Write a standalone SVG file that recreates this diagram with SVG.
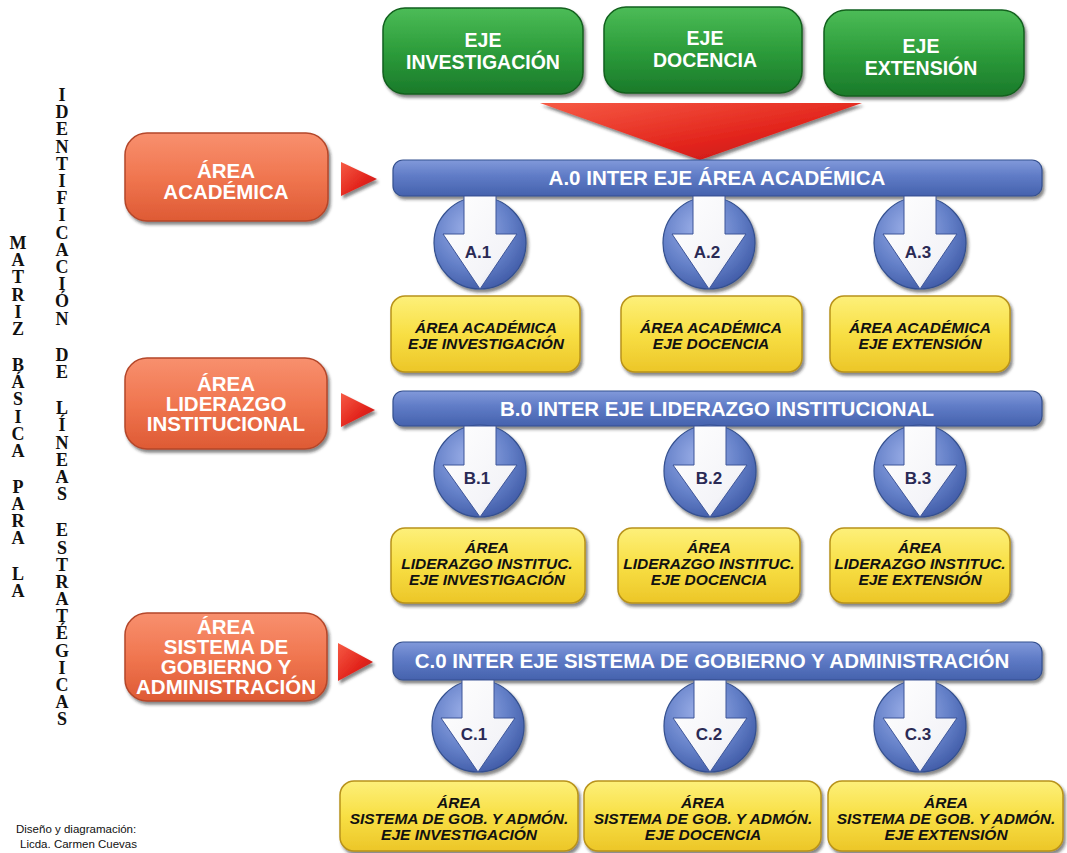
<svg xmlns="http://www.w3.org/2000/svg" width="1067" height="853" viewBox="0 0 1067 853">
<defs>
<linearGradient id="gGreen" x1="0" y1="0" x2="0" y2="1"><stop offset="0" stop-color="#4cbc57"/><stop offset="0.5" stop-color="#2d9d3b"/><stop offset="1" stop-color="#1a7a2a"/></linearGradient>
<linearGradient id="gOrange" x1="0" y1="0" x2="0" y2="1"><stop offset="0" stop-color="#f8906e"/><stop offset="0.5" stop-color="#f07650"/><stop offset="1" stop-color="#de5a34"/></linearGradient>
<linearGradient id="gBlue" x1="0" y1="0" x2="0" y2="1"><stop offset="0" stop-color="#8199da"/><stop offset="0.45" stop-color="#5f7bc6"/><stop offset="1" stop-color="#4562ad"/></linearGradient>
<linearGradient id="gYellow" x1="0" y1="0" x2="0" y2="1"><stop offset="0" stop-color="#fdf07a"/><stop offset="0.5" stop-color="#f8df44"/><stop offset="1" stop-color="#ecc628"/></linearGradient>
<linearGradient id="gRed" x1="0" y1="0" x2="1" y2="1"><stop offset="0" stop-color="#f65a44"/><stop offset="0.6" stop-color="#e2241c"/><stop offset="1" stop-color="#b81414"/></linearGradient>
<radialGradient id="gCircle" cx="0.4" cy="0.35" r="0.7"><stop offset="0" stop-color="#9fb2ea"/><stop offset="0.6" stop-color="#6480c8"/><stop offset="1" stop-color="#3f5aa6"/></radialGradient>
<linearGradient id="gWhite" x1="0" y1="0" x2="1" y2="1"><stop offset="0" stop-color="#ffffff"/><stop offset="0.7" stop-color="#f4f4f8"/><stop offset="1" stop-color="#c9cde0"/></linearGradient>
<filter id="sh" x="-10%" y="-10%" width="120%" height="130%"><feDropShadow dx="2" dy="3" stdDeviation="1.5" flood-color="#222" flood-opacity="0.55"/></filter>
<style>
.green{fill:url(#gGreen);stroke:#12601f;stroke-width:1.5;filter:url(#sh)}
.orange{fill:url(#gOrange);stroke:#b4472a;stroke-width:1.5;filter:url(#sh)}
.bar{fill:url(#gBlue);stroke:#34508f;stroke-width:1.2;filter:url(#sh)}
.yellow{fill:url(#gYellow);stroke:#b8921a;stroke-width:1.5;filter:url(#sh)}
.circ{fill:url(#gCircle);stroke:#34508f;stroke-width:1.2;filter:url(#sh)}
.arw{fill:url(#gWhite);stroke:#3d5598;stroke-width:1}
.red{fill:url(#gRed);filter:url(#sh)}
.wt{font-family:"Liberation Sans",Arial,sans-serif;font-weight:bold;fill:#ffffff;text-anchor:middle}
.gt{font-size:19.5px}
.ot{font-size:20.5px}
.bt{font-size:20.5px}
.yt{font-family:"Liberation Sans",Arial,sans-serif;font-weight:bold;font-style:italic;font-size:15.5px;fill:#111;text-anchor:middle}
.lt{font-family:"Liberation Sans",Arial,sans-serif;font-weight:bold;font-size:17px;fill:#2a2a55;text-anchor:middle}
.vt{font-family:"Liberation Serif","Times New Roman",serif;font-weight:bold;font-size:18px;fill:#111;text-anchor:middle}
.cr{font-family:"Liberation Sans",Arial,sans-serif;font-size:11.5px;fill:#111}
</style>
</defs>
<rect width="1067" height="853" fill="#ffffff"/>

<!-- vertical titles -->
<g id="title-matriz">
<text class="vt"><tspan x="18" y="249">M</tspan><tspan x="18" y="266">A</tspan><tspan x="18" y="283">T</tspan><tspan x="18" y="301">R</tspan><tspan x="18" y="318">I</tspan><tspan x="18" y="335">Z</tspan><tspan x="18" y="371">B</tspan><tspan x="18" y="388">Á</tspan><tspan x="18" y="405">S</tspan><tspan x="18" y="423">I</tspan><tspan x="18" y="440">C</tspan><tspan x="18" y="457">A</tspan><tspan x="18" y="493">P</tspan><tspan x="18" y="510">A</tspan><tspan x="18" y="527">R</tspan><tspan x="18" y="544">A</tspan><tspan x="18" y="580">L</tspan><tspan x="18" y="597">A</tspan></text>
</g>
<g id="title-identificacion">
<text class="vt"><tspan x="62" y="101">I</tspan><tspan x="62" y="118">D</tspan><tspan x="62" y="135">E</tspan><tspan x="62" y="153">N</tspan><tspan x="62" y="170">T</tspan><tspan x="62" y="187">I</tspan><tspan x="62" y="204">F</tspan><tspan x="62" y="221">I</tspan><tspan x="62" y="239">C</tspan><tspan x="62" y="256">A</tspan><tspan x="62" y="273">C</tspan><tspan x="62" y="290">I</tspan><tspan x="62" y="307">Ó</tspan><tspan x="62" y="325">N</tspan><tspan x="62" y="361">D</tspan><tspan x="62" y="378">E</tspan><tspan x="62" y="414">L</tspan><tspan x="62" y="431">Í</tspan><tspan x="62" y="449">N</tspan><tspan x="62" y="466">E</tspan><tspan x="62" y="483">A</tspan><tspan x="62" y="500">S</tspan><tspan x="62" y="536">E</tspan><tspan x="62" y="554">S</tspan><tspan x="62" y="571">T</tspan><tspan x="62" y="588">R</tspan><tspan x="62" y="605">A</tspan><tspan x="62" y="622">T</tspan><tspan x="62" y="639">É</tspan><tspan x="62" y="657">G</tspan><tspan x="62" y="674">I</tspan><tspan x="62" y="691">C</tspan><tspan x="62" y="708">A</tspan><tspan x="62" y="725">S</tspan></text>
</g>

<!-- connectors -->
<g id="connectors">
<polygon class="red" points="540,103 862,103 700,160"/>
<polygon class="red" points="341,162 377,179 341,196"/>
<polygon class="red" points="341,393 375,410 341,427"/>
<polygon class="red" points="338,643 373,662 338,681"/>
</g>

<!-- green axes -->
<g id="eje-investigacion"><rect class="green" x="383" y="8" width="200" height="86" rx="22"/><text class="wt gt" x="483" y="47">EJE</text><text class="wt gt" x="483" y="69">INVESTIGACIÓN</text></g>
<g id="eje-docencia"><rect class="green" x="604" y="7" width="198" height="86" rx="22"/><text class="wt gt" x="705" y="45">EJE</text><text class="wt gt" x="705" y="67">DOCENCIA</text></g>
<g id="eje-extension"><rect class="green" x="824" y="10" width="200" height="86" rx="22"/><text class="wt gt" x="921" y="53">EJE</text><text class="wt gt" x="921" y="75">EXTENSIÓN</text></g>

<!-- orange areas -->
<g id="area-academica"><rect class="orange" x="125" y="133" width="203" height="88" rx="22"/><text class="wt ot" x="226" y="178">ÁREA</text><text class="wt ot" x="226" y="199">ACADÉMICA</text></g>
<g id="area-liderazgo"><rect class="orange" x="125" y="358" width="202" height="91" rx="22"/><text class="wt ot" x="226" y="391">ÁREA</text><text class="wt ot" x="226" y="411">LIDERAZGO</text><text class="wt ot" x="226" y="431">INSTITUCIONAL</text></g>
<g id="area-sistema"><rect class="orange" x="125" y="613" width="202" height="88" rx="22"/><text class="wt ot" x="226" y="634">ÁREA</text><text class="wt ot" x="226" y="654">SISTEMA DE</text><text class="wt ot" x="226" y="674">GOBIERNO Y</text><text class="wt ot" x="226" y="694">ADMINISTRACIÓN</text></g>

<!-- inter-eje bars -->
<g id="bar-a0"><rect class="bar" x="393" y="160" width="649" height="36" rx="10"/><text class="wt bt" x="717" y="185">A.0 INTER EJE ÁREA ACADÉMICA</text></g>
<g id="bar-b0"><rect class="bar" x="393" y="391" width="649" height="35" rx="10"/><text class="wt bt" x="717" y="416">B.0 INTER EJE LIDERAZGO INSTITUCIONAL</text></g>
<g id="bar-c0"><rect class="bar" x="393" y="642" width="649" height="38" rx="10"/><text class="wt bt" x="712" y="668">C.0 INTER EJE SISTEMA DE GOBIERNO Y ADMINISTRACIÓN</text></g>

<!-- circle arrows row A -->
<g id="a1"><circle class="circ" cx="480" cy="243" r="46"/><polygon class="arw" points="464,196 496,196 496,234 517,234 480,289 443,234 464,234"/><text class="lt" x="478" y="258">A.1</text></g>
<g id="a2"><circle class="circ" cx="709" cy="243" r="46"/><polygon class="arw" points="693,196 725,196 725,234 746,234 709,289 672,234 693,234"/><text class="lt" x="707" y="258">A.2</text></g>
<g id="a3"><circle class="circ" cx="920" cy="243" r="46"/><polygon class="arw" points="904,196 936,196 936,234 957,234 920,289 883,234 904,234"/><text class="lt" x="918" y="258">A.3</text></g>
<!-- row B -->
<g id="b1"><circle class="circ" cx="480" cy="471" r="46"/><polygon class="arw" points="464,426 496,426 496,465 517,465 480,517 443,465 464,465"/><text class="lt" x="477" y="484">B.1</text></g>
<g id="b2"><circle class="circ" cx="710" cy="471" r="46"/><polygon class="arw" points="694,426 726,426 726,465 747,465 710,517 673,465 694,465"/><text class="lt" x="709" y="484">B.2</text></g>
<g id="b3"><circle class="circ" cx="920" cy="471" r="46"/><polygon class="arw" points="904,426 936,426 936,465 957,465 920,517 883,465 904,465"/><text class="lt" x="918" y="484">B.3</text></g>
<!-- row C -->
<g id="c1"><circle class="circ" cx="478" cy="726" r="46"/><polygon class="arw" points="462,680 494,680 494,718 515,718 478,772 441,718 462,718"/><text class="lt" x="474" y="740">C.1</text></g>
<g id="c2"><circle class="circ" cx="710" cy="726" r="46"/><polygon class="arw" points="694,680 726,680 726,718 747,718 710,772 673,718 694,718"/><text class="lt" x="709" y="740">C.2</text></g>
<g id="c3"><circle class="circ" cx="920" cy="726" r="46"/><polygon class="arw" points="904,680 936,680 936,718 957,718 920,772 883,718 904,718"/><text class="lt" x="918" y="740">C.3</text></g>

<!-- yellow row A -->
<g id="ya1"><rect class="yellow" x="391" y="296" width="189" height="76" rx="14"/><text class="yt" x="486" y="333">ÁREA ACADÉMICA</text><text class="yt" x="486" y="349">EJE INVESTIGACIÓN</text></g>
<g id="ya2"><rect class="yellow" x="621" y="296" width="181" height="76" rx="14"/><text class="yt" x="711" y="333">ÁREA ACADÉMICA</text><text class="yt" x="711" y="349">EJE DOCENCIA</text></g>
<g id="ya3"><rect class="yellow" x="830" y="296" width="180" height="76" rx="14"/><text class="yt" x="920" y="333">ÁREA ACADÉMICA</text><text class="yt" x="920" y="349">EJE EXTENSIÓN</text></g>
<!-- yellow row B -->
<g id="yb1"><rect class="yellow" x="391" y="528" width="194" height="75" rx="14"/><text class="yt" x="487" y="553">ÁREA</text><text class="yt" x="487" y="569">LIDERAZGO INSTITUC.</text><text class="yt" x="487" y="585">EJE INVESTIGACIÓN</text></g>
<g id="yb2"><rect class="yellow" x="618" y="528" width="182" height="75" rx="14"/><text class="yt" x="709" y="553">ÁREA</text><text class="yt" x="709" y="569">LIDERAZGO INSTITUC.</text><text class="yt" x="709" y="585">EJE DOCENCIA</text></g>
<g id="yb3"><rect class="yellow" x="830" y="528" width="180" height="75" rx="14"/><text class="yt" x="920" y="553">ÁREA</text><text class="yt" x="920" y="569">LIDERAZGO INSTITUC.</text><text class="yt" x="920" y="585">EJE EXTENSIÓN</text></g>
<!-- yellow row C -->
<g id="yc1"><rect class="yellow" x="340" y="781" width="238" height="70" rx="14"/><text class="yt" x="459" y="808">ÁREA</text><text class="yt" x="459" y="824">SISTEMA DE GOB. Y ADMÓN.</text><text class="yt" x="459" y="840">EJE INVESTIGACIÓN</text></g>
<g id="yc2"><rect class="yellow" x="584" y="781" width="237" height="70" rx="14"/><text class="yt" x="703" y="808">ÁREA</text><text class="yt" x="703" y="824">SISTEMA DE GOB. Y ADMÓN.</text><text class="yt" x="703" y="840">EJE DOCENCIA</text></g>
<g id="yc3"><rect class="yellow" x="828" y="781" width="235" height="70" rx="14"/><text class="yt" x="946" y="808">ÁREA</text><text class="yt" x="946" y="824">SISTEMA DE GOB. Y ADMÓN.</text><text class="yt" x="946" y="840">EJE EXTENSIÓN</text></g>

<g id="credits"><text class="cr" x="16" y="833">Diseño y diagramación:</text><text class="cr" x="20" y="848">Licda. Carmen Cuevas</text></g>
</svg>
